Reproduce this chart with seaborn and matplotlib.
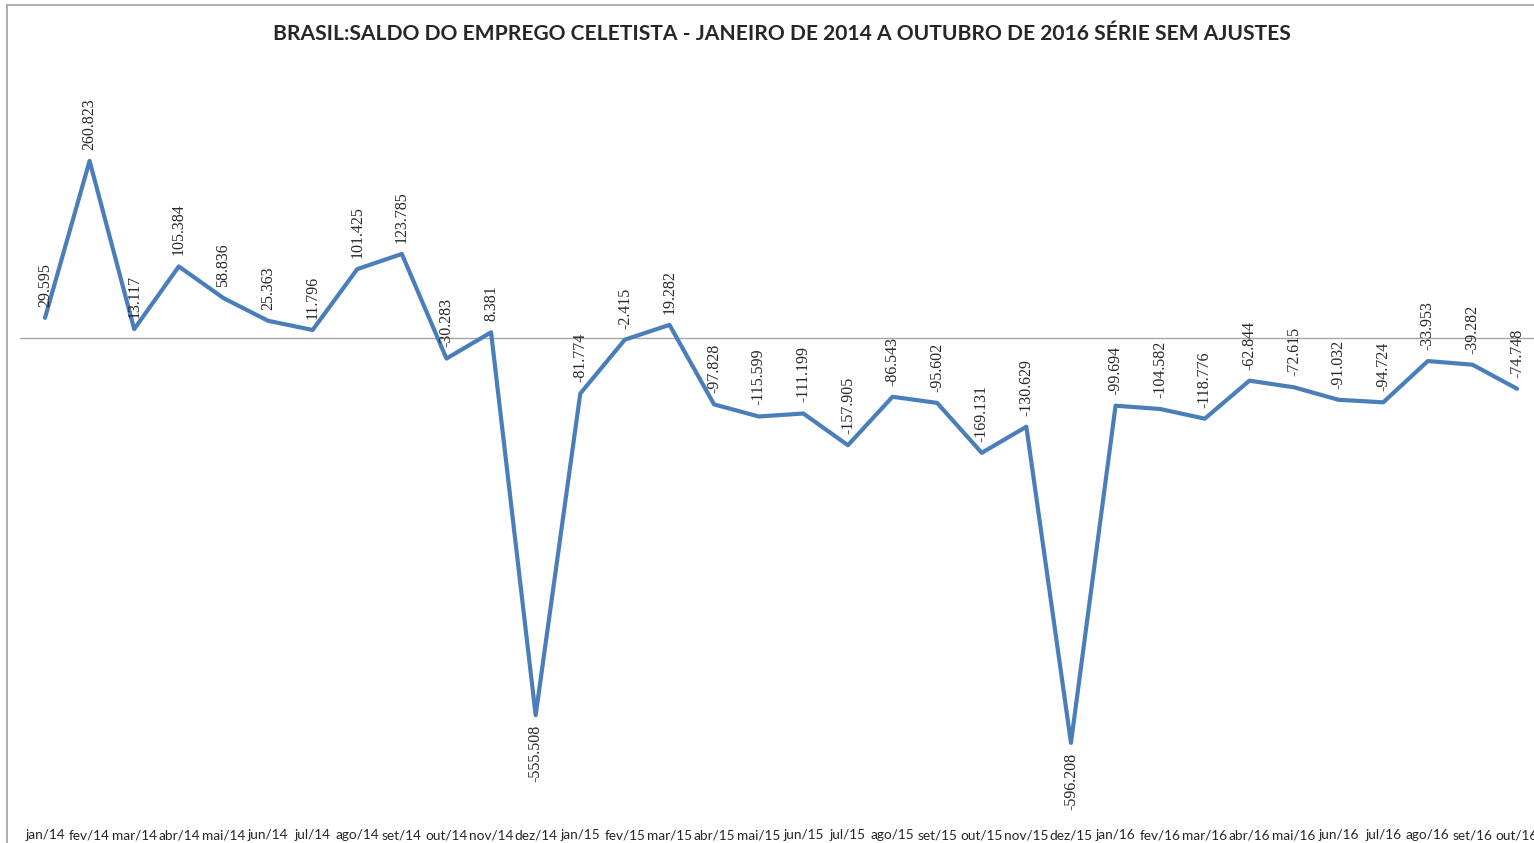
import numpy as np
import pandas as pd
import seaborn as sns
import matplotlib.pyplot as plt
from matplotlib.lines import Line2D

sns.set_style("white")
plt.rcParams['font.family'] = ['Liberation Sans', 'DejaVu Sans']

meses = ['jan/14', 'fev/14', 'mar/14', 'abr/14', 'mai/14', 'jun/14', 'jul/14', 'ago/14',
         'set/14', 'out/14', 'nov/14', 'dez/14', 'jan/15', 'fev/15', 'mar/15', 'abr/15',
         'mai/15', 'jun/15', 'jul/15', 'ago/15', 'set/15', 'out/15', 'nov/15', 'dez/15',
         'jan/16', 'fev/16', 'mar/16', 'abr/16', 'mai/16', 'jun/16', 'jul/16', 'ago/16',
         'set/16', 'out/16']
saldo = [29.595, 260.823, 13.117, 105.384, 58.836, 25.363, 11.796, 101.425,
         123.785, -30.283, 8.381, -555.508, -81.774, -2.415, 19.282, -97.828,
         -115.599, -111.199, -157.905, -86.543, -95.602, -169.131, -130.629, -596.208,
         -99.694, -104.582, -118.776, -62.844, -72.615, -91.032, -94.724, -33.953,
         -39.282, -74.748]

df = pd.DataFrame({'Mes': meses, 'Saldo': saldo, 'pos': range(len(meses))})

fig = plt.figure(figsize=(15.34, 8.43), dpi=100)
ax = fig.add_axes([20 / 1534, 1 - 810 / 843, 1 - 20 / 1534, 750 / 843])

sns.lineplot(data=df, x='pos', y='Saldo', color='#4A7EBB', linewidth=3.0, ax=ax)
ax.axhline(0, color='#A6A6A6', linewidth=1.0, zorder=0)

def fmt(v):
    return f"{v:.3f}"

for i, v in enumerate(saldo):
    if v < -500:
        ax.annotate(fmt(v), (i, v), xytext=(0, -7), textcoords='offset points',
                    rotation=90, ha='center', va='top', fontsize=11.5,
                    family=['Liberation Serif', 'DejaVu Serif'])
    else:
        ax.annotate(fmt(v), (i, v), xytext=(0, 8), textcoords='offset points',
                    rotation=90, ha='center', va='bottom', fontsize=11.5,
                    family=['Liberation Serif', 'DejaVu Serif'])

ax.set_xlim(-0.56, 33.38)
ax.set_ylim(-695.1, 409.4)
ax.set_xticks(range(len(meses)))
ax.set_xticklabels(meses, fontsize=9.8, family=['Lato', 'DejaVu Sans'])
ax.set_yticks([])
ax.tick_params(axis='x', length=0, pad=14)
ax.set_xlabel('')
ax.set_ylabel('')
for s in ax.spines.values():
    s.set_visible(False)

fig.text(0.510, 1 - 34 / 843, 'BRASIL:SALDO DO EMPREGO CELETISTA - JANEIRO DE 2014 A OUTUBRO DE 2016 SÉRIE SEM AJUSTES',
         ha='center', va='center', fontsize=15.1, fontweight='bold', family=['Lato', 'DejaVu Sans'])

fig.add_artist(Line2D([7 / 1534, 7 / 1534], [0, 1 - 5 / 843], color='#A0A0A0', linewidth=1.2))
fig.add_artist(Line2D([7 / 1534, 1], [1 - 5 / 843, 1 - 5 / 843], color='#A0A0A0', linewidth=1.2))

fig.savefig('out.png', dpi=100)
